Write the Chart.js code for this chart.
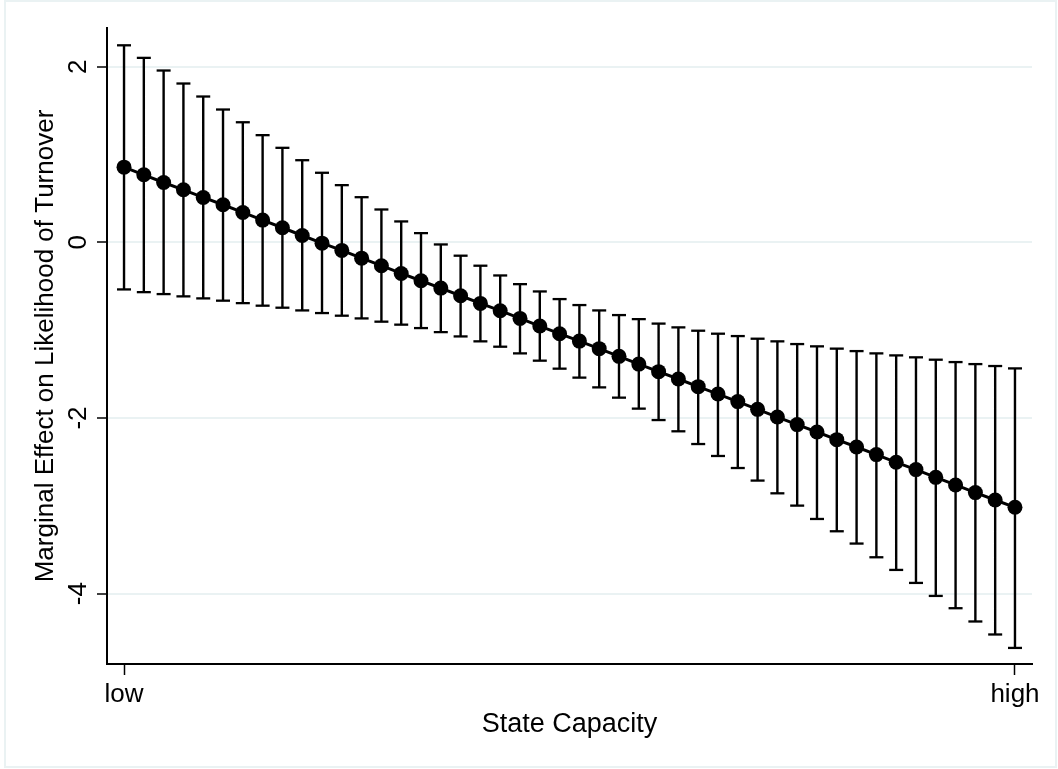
<!DOCTYPE html>
<html>
<head>
<meta charset="utf-8">
<script src="https://cdn.jsdelivr.net/npm/chart.js@4/dist/chart.umd.min.js"></script>
<style>
  body { margin: 0; background: #fff; }
  canvas { display: block; }
</style>
</head>
<body>
<canvas id="myChart" width="1058" height="769"></canvas>
<script>
// state capacity steps, low (0) .. high (45)
var steps = [];
for (var s = 0; s <= 45; s++) steps.push(s);

var estimate = [0.856, 0.769, 0.681, 0.598, 0.511, 0.428, 0.340, 0.253, 0.166, 0.078,
  -0.009, -0.092, -0.180, -0.266, -0.354, -0.437, -0.521, -0.608, -0.695, -0.778,
  -0.866, -0.953, -1.040, -1.124, -1.210, -1.298, -1.386, -1.472, -1.556, -1.643,
  -1.727, -1.813, -1.901, -1.989, -2.075, -2.159, -2.246, -2.330, -2.416, -2.504,
  -2.587, -2.675, -2.762, -2.849, -2.933, -3.016];

var upperCI = [2.243, 2.100, 1.956, 1.808, 1.660, 1.512, 1.367, 1.220, 1.076, 0.935,
  0.792, 0.651, 0.514, 0.374, 0.238, 0.105, -0.024, -0.152, -0.266, -0.377,
  -0.476, -0.559, -0.646, -0.714, -0.775, -0.828, -0.874, -0.925, -0.968, -1.006,
  -1.040, -1.067, -1.097, -1.127, -1.158, -1.184, -1.210, -1.238, -1.264, -1.287,
  -1.309, -1.336, -1.363, -1.386, -1.408, -1.435];

var lowerCI = [-0.536, -0.567, -0.589, -0.615, -0.638, -0.664, -0.692, -0.721, -0.744, -0.775,
  -0.805, -0.835, -0.866, -0.903, -0.937, -0.976, -1.022, -1.071, -1.127, -1.188,
  -1.264, -1.347, -1.438, -1.540, -1.651, -1.768, -1.893, -2.023, -2.151, -2.296,
  -2.432, -2.569, -2.712, -2.857, -2.997, -3.149, -3.289, -3.429, -3.585, -3.729,
  -3.877, -4.025, -4.165, -4.316, -4.464, -4.617];

var xTickValues = [0, 45];
var xTickLabels = ["low", "high"];
var yTickValues = [-4, -2, 0, 2];

var pts = function (arr) {
  return steps.map(function (x, i) { return { x: x, y: arr[i] }; });
};

// one line dataset for all the CI stems, broken by nulls
var stems = [];
steps.forEach(function (x, i) {
  stems.push({ x: x, y: lowerCI[i] });
  stems.push({ x: x, y: upperCI[i] });
  stems.push({ x: x, y: null });
});

var frame = {
  id: "frame",
  beforeDraw: function (chart) {
    var ctx = chart.ctx;
    ctx.save();
    ctx.strokeStyle = "#eaf2f3";
    ctx.lineWidth = 2;
    ctx.strokeRect(5, 1, 1051, 766);
    ctx.restore();
  }
};

Chart.defaults.font.family = "'Liberation Sans', Arial, Helvetica, sans-serif";
Chart.defaults.color = "#000";

new Chart("myChart", {
  type: "line",
  data: {
    datasets: [{
      data: pts(estimate),
      borderColor: "#000",
      borderWidth: 3,
      pointRadius: 7.5,
      pointBorderWidth: 0,
      pointBackgroundColor: "#000",
      tension: 0,
      order: 0
    }, {
      data: stems,
      borderColor: "#000",
      borderWidth: 2.4,
      pointRadius: 0,
      spanGaps: false,
      order: 1
    }, {
      data: pts(upperCI),
      showLine: false,
      pointStyle: "line",
      pointRadius: 7,
      pointBorderWidth: 2.3,
      pointBorderColor: "#000",
      order: 2
    }, {
      data: pts(lowerCI),
      showLine: false,
      pointStyle: "line",
      pointRadius: 7,
      pointBorderWidth: 2.3,
      pointBorderColor: "#000",
      order: 3
    }]
  },
  options: {
    responsive: false,
    animation: false,
    layout: { padding: { left: 0, right: 26, top: 28, bottom: 0 } },
    plugins: {
      legend: { display: false },
      tooltip: { enabled: false }
    },
    scales: {
      x: {
        type: "linear",
        min: -0.86,
        max: 45.86,
        afterBuildTicks: function (sc) {
          sc.ticks = xTickValues.map(function (v) { return { value: v }; });
        },
        afterFit: function (sc) { sc.height = 105; },
        ticks: {
          font: { size: 26 },
          padding: 4,
          maxRotation: 0,
          autoSkip: false,
          callback: function (v) {
            return xTickLabels[xTickValues.indexOf(v)];
          }
        },
        grid: {
          drawOnChartArea: false,
          tickLength: 11,
          tickColor: "#000",
          tickWidth: 1.5
        },
        border: { display: true, color: "#000", width: 2 },
        title: {
          display: true,
          text: "State Capacity",
          font: { size: 27 },
          padding: { top: 0, bottom: 28 }
        }
      },
      y: {
        min: -4.8,
        max: 2.44,
        afterBuildTicks: function (sc) {
          sc.ticks = yTickValues.map(function (v) { return { value: v }; });
        },
        afterFit: function (sc) { sc.width = 107; },
        ticks: {
          font: { size: 26 },
          minRotation: 90,
          maxRotation: 90,
          crossAlign: "center",
          padding: 7
        },
        grid: {
          color: "#eaf2f3",
          lineWidth: 2,
          tickLength: 10,
          tickColor: "#000",
          tickWidth: 1.5
        },
        border: { display: true, color: "#000", width: 2 },
        title: {
          display: true,
          text: "Marginal Effect on Likelihood of Turnover",
          font: { size: 26 },
          padding: { top: 30, bottom: 0 }
        }
      }
    }
  },
  plugins: [frame]
});
</script>
</body>
</html>
